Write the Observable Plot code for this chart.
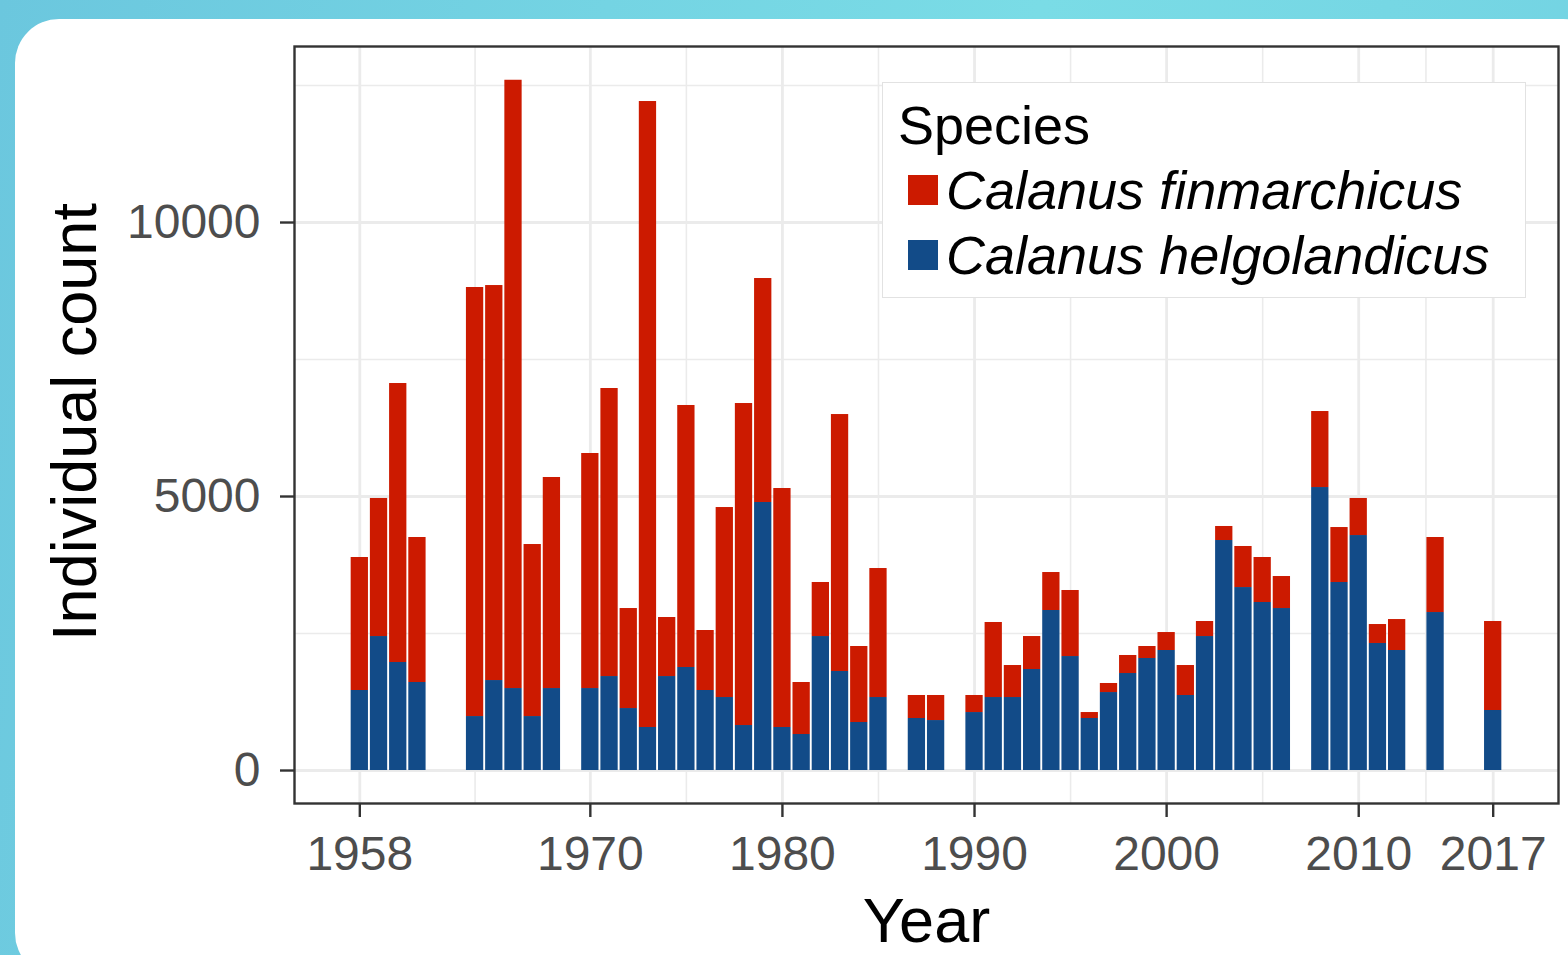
<!DOCTYPE html>
<html><head><meta charset="utf-8">
<script src="https://cdn.jsdelivr.net/npm/d3@7"></script>
<script src="https://cdn.jsdelivr.net/npm/@observablehq/plot@0.6"></script>
<style>
html,body{margin:0;padding:0;width:1568px;height:955px;overflow:hidden;}
body{position:relative;background:linear-gradient(100deg,#6bc7de 0%,#74d4e3 35%,#7adce6 60%,#72d2e2 100%);font-family:"Liberation Sans",Arial,sans-serif;}
#card{position:absolute;left:15px;top:19px;width:1592px;height:958px;background:#fff;border-radius:44px;}
#chart{position:absolute;left:0;top:0;}
#legendbox{position:absolute;left:882px;top:82px;width:644px;height:216px;box-sizing:border-box;border:1.5px solid #e2e2e2;background:#fff;}
.lg{position:absolute;font-size:54px;line-height:54px;white-space:nowrap;color:#000;}
.it{font-style:italic;}
.sw{position:absolute;width:30px;height:30px;}
</style></head><body>
<div id="card"></div>
<div id="chart"></div>
<div id="legendbox"></div>
<div class="lg" style="left:898px;top:98px;">Species</div>
<div class="sw" id="sw0" style="left:908px;top:175px;"></div>
<div class="lg it" id="lab0" style="left:946px;top:163px;"></div>
<div class="sw" id="sw1" style="left:908px;top:240px;"></div>
<div class="lg it" id="lab1" style="left:946px;top:228px;"></div>
<script>
const years = [1958,1959,1960,1961,1964,1965,1966,1967,1968,1970,1971,1972,1973,1974,1975,1976,1977,1978,1979,1980,1981,1982,1983,1984,1985,1987,1988,1990,1991,1992,1993,1994,1995,1996,1997,1998,1999,2000,2001,2002,2003,2004,2005,2006,2008,2009,2010,2011,2012,2014,2017];
const helgolandicus = [1460,2445,1971,1606,985,1642,1496,985,1496,1496,1715,1131,785,1715,1880,1460,1332,821,4891,785,657,2445,1807,876,1332,949,912,1058,1332,1332,1843,2920,2080,949,1423,1770,2044,2190,1369,2445,4197,3339,3066,2956,5164,3431,4288,2318,2190,2883,1095];
const finmarchicus = [2427,2519,5091,2646,7829,7208,11100,3139,3851,4289,5256,1825,11423,1077,4781,1095,3467,5876,4087,4361,949,986,4689,1387,2354,420,457,311,1369,584,602,693,1205,109,165,329,219,328,547,274,256,749,821,584,1387,1003,676,346,565,1369,1624];
const species = ["Calanus finmarchicus","Calanus helgolandicus"];
const speciesColors = ["#cc1a00","#124b88"];
const xTicks = [1958,1970,1980,1990,2000,2010,2017];
const xMinor = [1964,1975,1985,1995,2005,2013.5];
const yTicks = [0,5000,10000];
const yMinor = [2500,7500,12500];

const rows = [];
years.forEach((yr,i)=>{
  rows.push({year:yr, species:species[1], y1:0, y2:helgolandicus[i]});
  rows.push({year:yr, species:species[0], y1:helgolandicus[i], y2:helgolandicus[i]+finmarchicus[i]});
});

const plot = Plot.plot({
  width:1568, height:955,
  marginLeft:294, marginRight:10, marginTop:46, marginBottom:152,
  style:{background:"transparent", fontFamily:"Liberation Sans, Arial, sans-serif", overflow:"visible"},
  x:{domain:[1954.6,2020.4]},
  y:{domain:[-602,13212]},
  color:{domain:species, range:speciesColors},
  marks:[
    Plot.ruleX(xMinor,{stroke:"#ebebeb",strokeWidth:1.6}),
    Plot.ruleY(yMinor,{stroke:"#ebebeb",strokeWidth:1.6}),
    Plot.ruleX(xTicks,{stroke:"#ebebeb",strokeWidth:2.8}),
    Plot.ruleY(yTicks,{stroke:"#ebebeb",strokeWidth:2.8}),
    Plot.rect(rows,{x1:d=>d.year-0.45,x2:d=>d.year+0.45,y1:"y1",y2:"y2",fill:"species"}),
    Plot.frame({stroke:"#333333",strokeWidth:2.4}),
    Plot.axisX(xTicks,{tickSize:14,tickPadding:18,fontSize:48,color:"#4d4d4d",stroke:"#333333",strokeWidth:2.4,tickFormat:d=>String(d),label:null}),
    Plot.axisY(yTicks,{tickSize:14,tickPadding:20,fontSize:48,color:"#4d4d4d",stroke:"#333333",strokeWidth:2.4,tickFormat:d=>String(d),label:null}),
    Plot.text(["Individual count"],{text:d=>d,frameAnchor:"left",rotate:-90,textAnchor:"middle",lineAnchor:"middle",dx:-219,dy:-3,fontSize:63,fill:"#000"}),
    Plot.text(["Year"],{text:d=>d,frameAnchor:"bottom",textAnchor:"middle",lineAnchor:"bottom",dy:138,fontSize:63,fill:"#000"})
  ]
});
document.getElementById("chart").appendChild(plot);
document.getElementById("sw0").style.background = speciesColors[0];
document.getElementById("sw1").style.background = speciesColors[1];
document.getElementById("lab0").textContent = species[0];
document.getElementById("lab1").textContent = species[1];
</script>
</body></html>
